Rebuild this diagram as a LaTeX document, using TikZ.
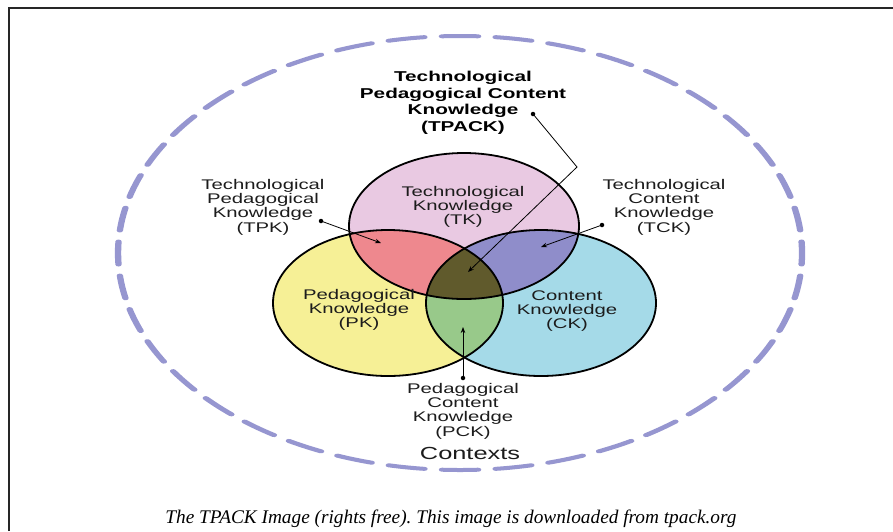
\documentclass[tikz,border=0pt]{standalone}
\usepackage{fontspec}
\setmainfont{Liberation Serif}
\newfontfamily\lab[FakeStretch=1.45]{Liberation Sans}
\usetikzlibrary{arrows.meta}
\definecolor{tkc}{RGB}{233,201,226}
\definecolor{pkc}{RGB}{246,240,150}
\definecolor{ckc}{RGB}{165,218,232}
\definecolor{tpkc}{RGB}{238,136,142}
\definecolor{tckc}{RGB}{143,141,202}
\definecolor{pckc}{RGB}{152,201,138}
\definecolor{tpackc}{RGB}{96,90,44}
\definecolor{ctxc}{RGB}{150,150,208}
\definecolor{txtc}{RGB}{28,28,28}
\begin{document}
\frenchspacing
\begin{tikzpicture}[x=1pt,y=-1pt,
  lbl/.style={font=\lab\fontsize{14}{14.3}\selectfont, text=txtc, align=center, inner sep=0pt},
  boldlbl/.style={font=\lab\bfseries\fontsize{14.3}{16.5}\selectfont, text=black, align=center, inner sep=0pt},
  ptr/.style={draw=black, line width=0.8pt, -{Stealth[length=6pt,width=4.5pt]}},
  dotnode/.style={circle, fill=black, inner sep=0pt, minimum size=4.5pt},
  ring/.style={draw=black, line width=1.8pt}]
\useasboundingbox (0,0) rectangle (893,531);
\fill[white] (0,0) rectangle (893,531);
\draw[line width=1.8pt, black!85] (9,531) -- (9,8) -- (893,8);
% contexts (a dashed circle stretched sideways)
\begin{scope}[transform canvas={xscale=1.576}]
  \draw[ctxc, line width=4pt, dash pattern=on 23pt off 11.09pt, dash phase=11.5pt, line cap=round] (291.9,253) circle [radius=217];
\end{scope}
% circles
\fill[tkc] (464,226) ellipse [x radius=115, y radius=73];
\fill[pkc] (388,303) ellipse [x radius=115, y radius=73];
\fill[ckc] (541,303) ellipse [x radius=115, y radius=73];
\begin{scope}
  \clip (464,226) ellipse [x radius=115, y radius=73];
  \fill[tpkc] (388,303) ellipse [x radius=115, y radius=73];
  \fill[tckc] (541,303) ellipse [x radius=115, y radius=73];
\end{scope}
\begin{scope}
  \clip (388,303) ellipse [x radius=115, y radius=73];
  \fill[pckc] (541,303) ellipse [x radius=115, y radius=73];
  \clip (464,226) ellipse [x radius=115, y radius=73];
  \fill[tpackc] (541,303) ellipse [x radius=115, y radius=73];
\end{scope}
\draw[ring] (464,226) ellipse [x radius=115, y radius=73];
\draw[ring] (388,303) ellipse [x radius=115, y radius=73];
\draw[ring] (541,303) ellipse [x radius=115, y radius=73];
% labels
\node[boldlbl] (tpack) at (463,103) {Technological\\Pedagogical Content\\Knowledge\\(TPACK)};
\node[lbl] (tpk) at (263,207) {Technological\\Pedagogical\\Knowledge\\(TPK)};
\node[lbl] (tk) at (463,207) {Technological\\Knowledge\\(TK)};
\node[lbl] (tck) at (664,207) {Technological\\Content\\Knowledge\\(TCK)};
\node[lbl] (pk) at (359,310) {Pedagogical\\Knowledge\\(PK)};
\node[lbl] (ck) at (567,311) {Content\\Knowledge\\(CK)};
\node[lbl] (pck) at (463,411) {Pedagogical\\Content\\Knowledge\\(PCK)};
\node[font=\lab\fontsize{17.5}{20}\selectfont, text=txtc, inner sep=0pt] (ctx) at (470,453) {Contexts};
\node[font=\itshape\fontsize{19.3}{22}\selectfont, inner sep=0pt] (cap) at (451,519) {The TPACK Image (rights free). This image is downloaded from tpack.org};
% pointers
\node[dotnode] (dtpack) at (533,114) {};
\coordinate (btpack) at (577,167);
\coordinate (ttpack) at (468,272);
\draw[ptr] (dtpack.center) -- (btpack) -- (ttpack);
\node[dotnode] (dtpk) at (321,221) {};
\coordinate (ttpk) at (381,243);
\draw[ptr] (dtpk.center) -- (ttpk);
\node[dotnode] (dtck) at (602,225) {};
\coordinate (ttck) at (541,247);
\draw[ptr] (dtck.center) -- (ttck);
\node[dotnode] (dpck) at (463,378) {};
\coordinate (tpck) at (463,327);
\draw[ptr] (dpck.center) -- (tpck);
\end{tikzpicture}
\end{document}
